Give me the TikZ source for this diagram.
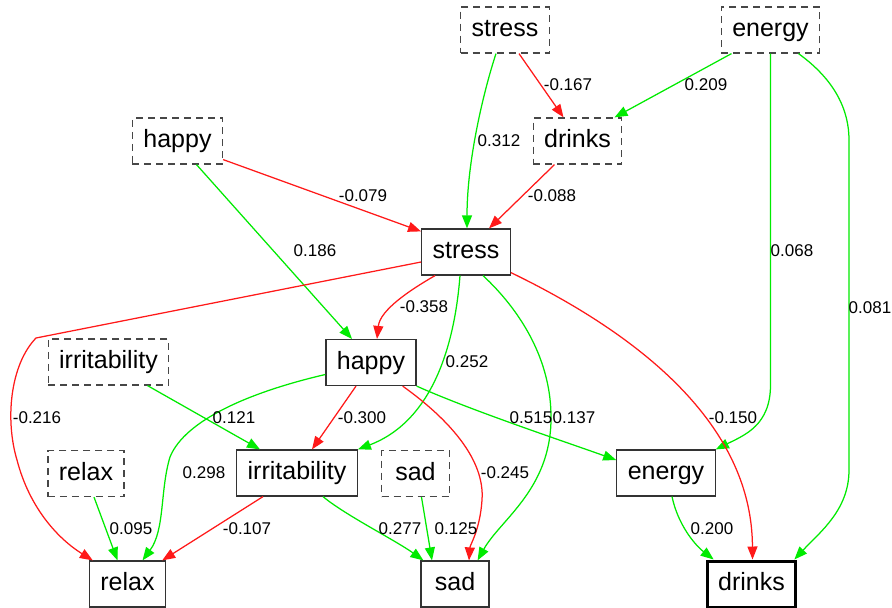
\documentclass[tikz,border=0pt]{standalone}
\usepackage{fontspec}
\setmainfont{Liberation Sans}
\usetikzlibrary{arrows.meta,calc}
\definecolor{gr}{RGB}{0,235,0}
\definecolor{rd}{RGB}{255,25,25}
\tikzset{
  obs/.style={draw=black!80, line width=1.2pt, rectangle,
    font=\fontsize{25}{30}\selectfont, inner xsep=11pt, inner ysep=0pt,
    minimum height=46pt, minimum width=68pt, text height=18pt, text depth=4.6pt},
  lag/.style={obs, draw=black!72, dash pattern=on 7pt off 5pt},
  lbl/.style={font=\fontsize{17}{20}\selectfont, inner sep=0pt, text height=12.2pt, text depth=0pt},
  posedge/.style={color=gr, line width=1.25pt, -{Triangle[length=13pt,width=10pt]}},
  negedge/.style={color=rd, line width=1.25pt, -{Triangle[length=13pt,width=10pt]}}
}
\begin{document}
\begin{tikzpicture}[x=1pt,y=-1pt]
\path[use as bounding box, fill=white] (0,0) rectangle (892,608);
% lagged (dashed) nodes
\node[lag] (stressl) at (505,30) {stress};
\node[lag] (energyl) at (770.5,30) {energy};
\node[lag] (drinksl) at (577.5,141) {drinks};
\node[lag] (happyl) at (177.5,141) {happy};
\node[lag] (irritl) at (108.5,362) {irritability};
\node[lag] (relaxl) at (86,473.5) {relax};
\node[lag] (sadl) at (415.5,473.5) {sad};
% current nodes
\node[obs] (stress) at (466,252) {stress};
\node[obs] (happy) at (371,362.5) {happy};
\node[obs] (irrit) at (297,473) {irritability};
\node[obs] (relax) at (127.5,584) {relax};
\node[obs] (sad) at (455,584) {sad};
\node[obs] (energy) at (666,473) {energy};
\node[obs, line width=3pt, draw=black] (drinks) at (751.5,584) {drinks};

% edges
\draw[posedge] ($(stressl.south)+(-9,0)$) .. controls (484,90) and (467,160) .. ($(stress.north)+(1,0)$);
\draw[negedge] ($(stressl.south)+(14,0)$) -- ($(drinksl.north)+(-14,0)$);
\draw[posedge] ($(energyl.south)+(-39,0)$) -- ($(drinksl.north)+(37,0)$);
\draw[posedge] (energyl.south) -- (770.5,385) .. controls (770.5,425) and (745,435) .. (energy.north east);
\draw[posedge] ($(energyl.south)+(28,0)$) .. controls (835,80) and (849,110) .. (849,140) -- (849,470) .. controls (849,510) and (820,532) .. ($(drinks.north east)+(-3,0)$);
\draw[negedge] ($(drinksl.south)+(-23,0)$) -- ($(stress.north)+(23,0)$);
\draw[negedge] ($(happyl.south east)+(0,-5)$) -- ($(stress.north west)+(0,3)$);
\draw[posedge] ($(happyl.south)+(19,0)$) -- ($(happy.north)+(-19,0)$);
\draw[negedge] ($(stress.west)+(0,10)$) -- (36,338) .. controls (10,365) and (5,420) .. (17,460) .. controls (30,510) and (60,540) .. ($(relax.north west)+(4,0)$);
\draw[negedge] ($(stress.south west)+(14,0)$) .. controls (410,290) and (380,310) .. ($(happy.north)+(6,0)$);
\draw[posedge] ($(stress.south)+(-6,0)$) .. controls (455,340) and (435,420) .. (irrit.north east);
\draw[posedge] ($(stress.south)+(17,0)$) .. controls (520,310) and (552,360) .. (551,420) .. controls (550,490) and (500,520) .. ($(sad.north east)+(-12,0)$);
\draw[negedge] ($(stress.south east)+(0,-3)$) .. controls (650,340) and (752,430) .. ($(drinks.north)+(1,0)$);
\draw[posedge] ($(happy.west)+(0,12)$) .. controls (250,392) and (185,420) .. (170,457) .. controls (160,490) and (165,530) .. ($(relax.north)+(15,0)$);
\draw[negedge] ($(happy.south)+(-15,0)$) -- ($(irrit.north)+(15,0)$);
\draw[negedge] ($(happy.south east)+(-14,0)$) .. controls (450,420) and (485,460) .. (482,500) .. controls (480,530) and (470,545) .. ($(sad.north)+(14,0)$);
\draw[posedge] (happy.south east) .. controls (470,410) and (560,440) .. ($(energy.west)+(0,-13)$);
\draw[posedge] ($(irritl.south)+(39,0)$) -- ($(irrit.north)+(-37,0)$);
\draw[posedge] ($(relaxl.south)+(8,0)$) -- ($(relax.north)+(-10,0)$);
\draw[negedge] ($(irrit.south)+(-34,0)$) -- ($(relax.north east)+(-4,0)$);
\draw[posedge] ($(irrit.south)+(26,0)$) .. controls (345,515) and (395,540) .. ($(sad.north west)+(3,0)$);
\draw[posedge] ($(sadl.south)+(6,0)$) -- ($(sad.north)+(-23,0)$);
\draw[posedge] ($(energy.south)+(6,0)$) .. controls (678,525) and (695,545) .. ($(drinks.north west)+(8,0)$);

% labels
\node[lbl] (l1) at (568,84) {-0.167};
\node[lbl] (l2) at (499,140) {0.312};
\node[lbl] (l3) at (706,84) {0.209};
\node[lbl] (l4) at (552,195) {-0.088};
\node[lbl] (l5) at (792,250) {0.068};
\node[lbl] (l6) at (870,307) {0.081};
\node[lbl] (l7) at (363,195) {-0.079};
\node[lbl] (l8) at (315,250) {0.186};
\node[lbl] (l9) at (37,417) {-0.216};
\node[lbl] (l10) at (424,306) {-0.358};
\node[lbl] (l11) at (467,361) {0.252};
\node[lbl] (l12) at (531,417) {0.515};
\node[lbl] (l13) at (574,417) {0.137};
\node[lbl] (l14) at (733,417) {-0.150};
\node[lbl] (l15) at (204,472) {0.298};
\node[lbl] (l16) at (234,417) {0.121};
\node[lbl] (l17) at (362,417) {-0.300};
\node[lbl] (l18) at (505,472) {-0.245};
\node[lbl] (l19) at (131,528) {0.095};
\node[lbl] (l20) at (247,528) {-0.107};
\node[lbl] (l21) at (400,528) {0.277};
\node[lbl] (l22) at (456,528) {0.125};
\node[lbl] (l23) at (712,528) {0.200};
\end{tikzpicture}
\end{document}
